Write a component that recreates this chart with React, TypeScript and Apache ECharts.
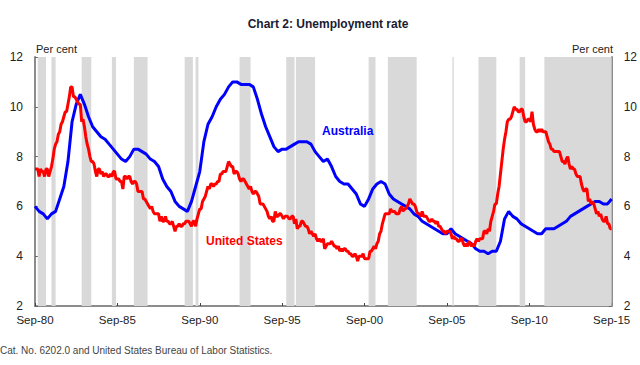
import React, { useEffect, useRef } from "react";
import * as echarts from "echarts";

// Monthly US unemployment rate, Sep-1980 .. Sep-2015
const usRate: number[] = [
  7.5, 7.5, 7.5, 7.2,
  7.5, 7.4, 7.4, 7.2, 7.5, 7.5, 7.2, 7.4, 7.6, 7.9, 8.3, 8.5,
  8.6, 8.9, 9.0, 9.3, 9.4, 9.6, 9.8, 9.8, 10.1, 10.4, 10.8, 10.8,
  10.4, 10.4, 10.3, 10.2, 10.1, 10.1, 9.4, 9.5, 9.2, 8.8, 8.5, 8.3,
  8.0, 7.8, 7.8, 7.7, 7.4, 7.2, 7.5, 7.5, 7.3, 7.4, 7.2, 7.3,
  7.3, 7.2, 7.2, 7.3, 7.2, 7.4, 7.4, 7.1, 7.1, 7.1, 7.0, 7.0,
  6.7, 7.2, 7.2, 7.1, 7.2, 7.2, 7.0, 6.9, 7.0, 7.0, 6.9, 6.6,
  6.6, 6.6, 6.6, 6.3, 6.3, 6.2, 6.1, 6.0, 5.9, 6.0, 5.8, 5.7,
  5.7, 5.7, 5.7, 5.4, 5.6, 5.4, 5.4, 5.6, 5.4, 5.4, 5.3, 5.3,
  5.4, 5.2, 5.0, 5.2, 5.2, 5.3, 5.2, 5.2, 5.3, 5.3, 5.4, 5.4,
  5.4, 5.3, 5.2, 5.4, 5.4, 5.2, 5.5, 5.7, 5.9, 5.9, 6.2, 6.3,
  6.4, 6.6, 6.8, 6.7, 6.9, 6.9, 6.8, 6.9, 6.9, 7.0, 7.0, 7.3,
  7.3, 7.4, 7.4, 7.4, 7.6, 7.8, 7.7, 7.6, 7.6, 7.3, 7.4, 7.4,
  7.3, 7.1, 7.0, 7.1, 7.1, 7.0, 6.9, 6.8, 6.7, 6.8, 6.6, 6.5,
  6.6, 6.6, 6.5, 6.4, 6.1, 6.1, 6.1, 6.0, 5.9, 5.8, 5.6, 5.5,
  5.6, 5.4, 5.4, 5.8, 5.6, 5.6, 5.7, 5.7, 5.6, 5.5, 5.6, 5.6,
  5.6, 5.5, 5.5, 5.6, 5.6, 5.3, 5.5, 5.1, 5.2, 5.2, 5.4, 5.4,
  5.3, 5.2, 5.2, 5.1, 4.9, 5.0, 4.9, 4.8, 4.9, 4.7, 4.6, 4.7,
  4.6, 4.6, 4.7, 4.3, 4.4, 4.5, 4.5, 4.5, 4.6, 4.5, 4.4, 4.4,
  4.3, 4.4, 4.2, 4.3, 4.2, 4.3, 4.3, 4.2, 4.2, 4.1, 4.1, 4.0,
  4.0, 4.1, 4.0, 3.8, 4.0, 4.0, 4.0, 4.1, 3.9, 3.9, 3.9, 3.9,
  4.2, 4.2, 4.3, 4.4, 4.3, 4.5, 4.6, 4.9, 5.0, 5.3, 5.5, 5.7,
  5.7, 5.7, 5.7, 5.9, 5.8, 5.8, 5.8, 5.7, 5.7, 5.7, 5.9, 6.0,
  5.8, 5.9, 5.9, 6.0, 6.1, 6.3, 6.2, 6.1, 6.1, 6.0, 5.8, 5.7,
  5.7, 5.6, 5.8, 5.6, 5.6, 5.6, 5.5, 5.4, 5.4, 5.5, 5.4, 5.4,
  5.3, 5.4, 5.2, 5.2, 5.1, 5.0, 5.0, 4.9, 5.0, 5.0, 5.0, 4.9,
  4.7, 4.8, 4.7, 4.7, 4.6, 4.6, 4.7, 4.7, 4.5, 4.4, 4.5, 4.4,
  4.6, 4.5, 4.4, 4.5, 4.4, 4.6, 4.7, 4.6, 4.7, 4.7, 4.7, 5.0,
  5.0, 4.9, 5.1, 5.0, 5.4, 5.6, 5.8, 6.1, 6.1, 6.5, 6.8, 7.3,
  7.8, 8.3, 8.7, 9.0, 9.4, 9.5, 9.5, 9.6, 9.8, 10.0, 9.9, 9.9,
  9.8, 9.8, 9.9, 9.9, 9.6, 9.4, 9.4, 9.5, 9.5, 9.4, 9.8, 9.3,
  9.1, 9.0, 9.0, 9.1, 9.0, 9.1, 9.0, 9.0, 9.0, 8.8, 8.6, 8.5,
  8.3, 8.3, 8.2, 8.2, 8.2, 8.2, 8.2, 8.0, 7.8, 7.8, 7.7, 7.9,
  8.0, 7.7, 7.5, 7.6, 7.5, 7.5, 7.3, 7.2, 7.2, 7.2, 6.9, 6.7,
  6.6, 6.7, 6.7, 6.2, 6.3, 6.1, 6.2, 6.1, 5.9, 5.7, 5.8, 5.6,
  5.7, 5.5, 5.4, 5.4, 5.6, 5.3, 5.3, 5.1, 5.1,
];

// Quarterly Australian unemployment rate (Sep, Dec, Mar, Jun), Sep-1980 .. Sep-2015
const ausRate: number[] = [
  6.0, 5.8,
  5.7, 5.5, 5.7, 5.8,
  6.3, 6.8, 7.8, 9.4,
  10.1, 10.5, 10.1, 9.6,
  9.2, 9.0, 8.8, 8.7,
  8.5, 8.3, 8.1, 7.9,
  7.8, 8.0, 8.3, 8.3,
  8.2, 8.1, 7.9, 7.8,
  7.6, 7.1, 6.8, 6.6,
  6.2, 6.0, 5.9, 5.8,
  6.2, 6.8, 7.4, 8.6,
  9.3, 9.6, 10.0, 10.3,
  10.5, 10.8, 11.0, 11.0,
  10.9, 10.9, 10.9, 10.8,
  10.3, 9.7, 9.2, 8.8,
  8.4, 8.2, 8.3, 8.3,
  8.4, 8.5, 8.6, 8.6,
  8.6, 8.5, 8.2, 8.0,
  7.8, 7.9, 7.6, 7.2,
  7.0, 6.9, 6.9, 6.7,
  6.5, 6.1, 6.0, 6.3,
  6.7, 6.9, 7.0, 6.9,
  6.5, 6.3, 6.2, 6.1,
  6.0, 5.9, 5.7, 5.6,
  5.4, 5.3, 5.2, 5.1,
  5.0, 4.9, 4.9, 5.1,
  4.9, 4.8, 4.7, 4.6,
  4.5, 4.3, 4.2, 4.2,
  4.1, 4.2, 4.2, 4.6,
  5.5, 5.8, 5.6, 5.5,
  5.3, 5.2, 5.1, 5.0,
  4.9, 4.9, 5.1, 5.1,
  5.1, 5.2, 5.3, 5.4,
  5.6, 5.7, 5.8, 5.9,
  6.0, 6.1, 6.2, 6.2,
  6.1, 6.1, 6.3,
];

const xTickLabels = ["Sep-80", "Sep-85", "Sep-90", "Sep-95", "Sep-00", "Sep-05", "Sep-10", "Sep-15"];
const yTicks = [2, 4, 6, 8, 10, 12];

const shadedPeriods: [string, string][] = [
  ["1980-11", "1981-05"],
  ["1981-09", "1981-12"],
  ["1983-07", "1984-02"],
  ["1985-05", "1985-08"],
  ["1986-09", "1987-07"],
  ["1989-10", "1990-04"],
  ["1990-06", "1990-08"],
  ["1993-02", "1993-10"],
  ["1995-12", "1996-06"],
  ["1996-07", "1997-09"],
  ["2000-12", "2001-05"],
  ["2002-02", "2003-11"],
  ["2006-01", "2006-02"],
  ["2007-08", "2008-09"],
  ["2010-02", "2010-06"],
  ["2011-08", "2015-09"],
];

const monthIndex = (s: string) => {
  const [y, m] = s.split("-").map(Number);
  return (y - 1980) * 12 + (m - 9);
};

export default function App() {
  const ref = useRef<HTMLDivElement>(null);
  useEffect(() => {
    if (!ref.current) return;
    const chart = echarts.init(ref.current, null, { renderer: "svg" });
    const font = "Liberation Sans, Arial, sans-serif";
    const axisColor = "#8c8c8c";
    const yAxisBase = {
      type: "value" as const,
      min: yTicks[0],
      max: yTicks[yTicks.length - 1],
      interval: 2,
      splitLine: { show: false },
      axisLine: { show: true, lineStyle: { color: axisColor, width: 2 } },
      axisTick: { show: true, inside: true, length: 3, lineStyle: { color: "#666" } },
      axisLabel: { color: "#222", fontSize: 12, fontFamily: font, margin: 12 },
    };
    chart.setOption({
      animation: false,
      backgroundColor: "#ffffff",
      grid: { left: 35, right: 26, top: 57, bottom: 59, containLabel: false },
      title: {
        text: "Chart 2: Unemployment rate",
        left: 323,
        textAlign: "center",
        top: 13,
        textStyle: { fontSize: 12, fontWeight: "bold", color: "#1a1a33", fontFamily: font },
      },
      xAxis: {
        type: "value",
        min: 0,
        max: 420,
        interval: 60,
        splitLine: { show: false },
        axisLine: { show: true, lineStyle: { color: axisColor, width: 2 } },
        axisTick: { show: true, inside: true, length: 3, lineStyle: { color: "#444" } },
        axisLabel: {
          color: "#222",
          fontSize: 11.5,
          fontFamily: font,
          margin: 8,
          formatter: (v: number) => xTickLabels[Math.round(v / 60)] ?? "",
        },
      },
      yAxis: [
        { ...yAxisBase, position: "left" },
        { ...yAxisBase, position: "right" },
      ],
      graphic: [
        { type: "text", z: 100, left: 36, top: 43, style: { text: "Per cent", fontSize: 11, fill: "#222", fontFamily: font } },
        { type: "text", z: 100, right: 27, top: 43, style: { text: "Per cent", fontSize: 11, fill: "#222", fontFamily: font } },
        { type: "text", z: 100, left: 322, top: 125, style: { text: "Australia", fontSize: 12, fontWeight: "bold", fill: "#0000ff", fontFamily: font } },
        { type: "text", z: 100, left: 206, top: 235, style: { text: "United States", fontSize: 12, fontWeight: "bold", fill: "#ff0000", fontFamily: font } },
        { type: "text", z: 100, left: 0, top: 345, style: { text: "Cat. No. 6202.0 and United States Bureau of Labor Statistics.", fontSize: 10, fill: "#444", fontFamily: font } },
      ],
      series: [
        {
          name: "Australia",
          type: "line",
          yAxisIndex: 0,
          symbol: "none",
          lineStyle: { color: "#0000ff", width: 3 },
          data: ausRate.map((v, i) => [i * 3, v]),
          z: 3,
          markArea: {
            silent: true,
            z: 1,
            itemStyle: { color: "#d9d9d9" },
            data: shadedPeriods.map(([s, e]) => [{ xAxis: monthIndex(s) }, { xAxis: monthIndex(e) }]),
          },
        },
        {
          name: "United States",
          type: "line",
          yAxisIndex: 0,
          symbol: "none",
          lineStyle: { color: "#ff0000", width: 3 },
          data: usRate.map((v, i) => [i, v]),
          z: 4,
        },
      ],
    });
    return () => chart.dispose();
  }, []);
  return <div ref={ref} style={{ position: "fixed", left: 0, top: 0, width: 640, height: 365 }} />;
}
